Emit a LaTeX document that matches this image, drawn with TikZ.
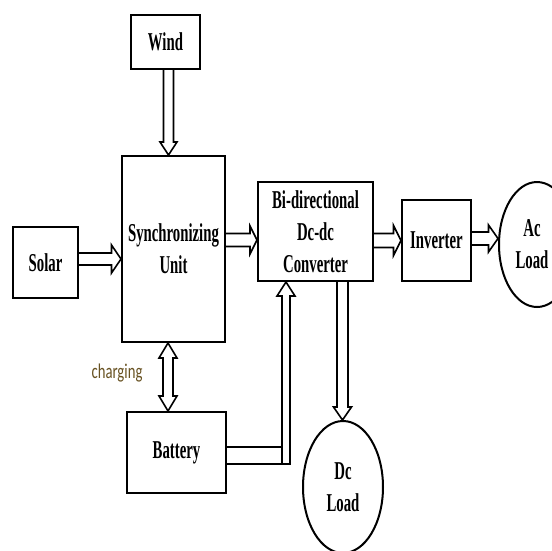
\documentclass[tikz,border=0pt]{standalone}
\usepackage{fontspec}
\usepackage{xcolor}
\usepackage{tikz}
\usetikzlibrary{calc, shapes.geometric}

\newfontfamily\boxfont{Liberation Serif}[FakeStretch=0.575]
\newfontfamily\notefont{Carlito}[FakeStretch=0.7]
\definecolor{chargecol}{RGB}{104,82,34}

% hollow block arrow: start, end, shaft half width, head half width, head length
\newcommand{\hollowarrow}[5]{%
  \path (#1) coordinate (ha-t) (#2) coordinate (ha-h);
  \path ($(ha-h)!#5!(ha-t)$) coordinate (ha-b);
  \draw[hollow] ($(ha-t)!#3!90:(ha-h)$) -- ($(ha-b)!#3!90:(ha-h)$) -- ($(ha-b)!#4!90:(ha-h)$)
    -- (ha-h) -- ($(ha-b)!#4!-90:(ha-h)$) -- ($(ha-b)!#3!-90:(ha-h)$) -- ($(ha-t)!#3!-90:(ha-h)$);
}
% same, with a head at both ends
\newcommand{\hollowdarrow}[5]{%
  \path (#1) coordinate (ha-t) (#2) coordinate (ha-h);
  \path ($(ha-h)!#5!(ha-t)$) coordinate (ha-b) ($(ha-t)!#5!(ha-h)$) coordinate (ha-a);
  \draw[hollow] (ha-t) -- ($(ha-a)!#4!90:(ha-h)$) -- ($(ha-a)!#3!90:(ha-h)$) -- ($(ha-b)!#3!90:(ha-h)$)
    -- ($(ha-b)!#4!90:(ha-h)$) -- (ha-h) -- ($(ha-b)!#4!-90:(ha-h)$) -- ($(ha-b)!#3!-90:(ha-h)$)
    -- ($(ha-a)!#3!-90:(ha-h)$) -- ($(ha-a)!#4!-90:(ha-h)$) -- cycle;
}

\begin{document}
\begin{tikzpicture}[x=1pt, y=-1pt, line join=miter,
  boxtext/.style={inner sep=0pt, align=center,
    font=\boxfont\bfseries\fontsize{25.7}{32}\selectfont},
  block/.style={boxtext, draw, line width=2pt},
  load/.style={block, ellipse},
  hollow/.style={draw, line width=1.6pt}]
  \useasboundingbox (0,0) rectangle (552,550);
  \clip (0,0) rectangle (552,550);
  % Sources
  \node[block, minimum width=69pt, minimum height=54pt] (wind) at (165.5,42) {Wind};
  \node[block, minimum width=65pt, minimum height=71pt] (solar) at (45.5,262.5) {Solar};
  \node[block, minimum width=103pt, minimum height=186pt] (sync) at (173.5,249) {Synchronizing\\Unit};
  \node[block, minimum width=99pt, minimum height=81pt] (batt) at (176.5,452.5) {Battery};
  % Conversion
  \node[block, minimum width=115pt, minimum height=99pt] (bidir) at (315.5,231.5) {Bi-directional\\Dc-dc\\Converter};
  \node[block, minimum width=69pt, minimum height=81pt] (inv) at (436.5,240.5) {Inverter};
  % Loads
  \node[load, minimum width=76pt, minimum height=125pt] (acload) at (537,244.5) {};
  \node[boxtext] (actext) at ($(acload.center)+(-5,0)$) {Ac\\Load};
  \node[load, minimum width=80pt, minimum height=132pt] (dcload) at (343,487) {Dc\\Load};
  \node[text=chargecol, font=\notefont\fontsize{21}{24}\selectfont] (chg) at (117,373) {charging};

  % Inputs to the synchronizing unit
  \coordinate (windout) at ($(wind.south)+(3,0)$);
  \hollowarrow{windout}{windout |- sync.north}{5pt}{8.5pt}{13pt}
  \coordinate (solarout) at ($(solar.east)+(0,-3.5)$);
  \hollowarrow{solarout}{solarout -| sync.west}{6pt}{14pt}{9.5pt}
  % Synchronizing unit to converter, inverter and ac load
  \coordinate (syncout) at ($(sync.east)+(0,-9)$);
  \hollowarrow{syncout}{syncout -| bidir.west}{6.5pt}{14pt}{7pt}
  \coordinate (bidirout) at ($(bidir.east)+(0,9)$);
  \hollowarrow{bidirout}{bidirout -| inv.west}{7pt}{15pt}{7.5pt}
  \coordinate (invout) at ($(inv.east)+(0,-2)$);
  \hollowarrow{invout}{invout -| acload.west}{6.5pt}{13.5pt}{9.5pt}
  % Converter to dc load
  \coordinate (dcout) at ($(bidir.south)+(27,0)$);
  \hollowarrow{dcout}{dcout |- dcload.north}{5.5pt}{9pt}{13pt}
  % Charging path
  \coordinate (chgtop) at ($(sync.south)+(-5.5,0)$);
  \hollowdarrow{chgtop}{chgtop |- batt.north}{5pt}{9pt}{15pt}
  % Battery back up to the converter
  \coordinate (bup) at ($(bidir.south)+(-29.5,0)$);
  \coordinate (bl) at ($(bup)+(-4,14)$);
  \coordinate (br) at ($(bup)+(4,14)$);
  \coordinate (bhi) at ($(batt.east)+(0,-5.5)$);
  \coordinate (blo) at ($(batt.east)+(0,11.5)$);
  \draw[hollow] (blo) -- (blo -| br) -- (br) -- ($(br)+(5,0)$) -- (bup) -- ($(bl)+(-5,0)$) -- (bl) -- (bl |- blo)
    (bhi) -- (bhi -| bl);
\end{tikzpicture}
\end{document}
